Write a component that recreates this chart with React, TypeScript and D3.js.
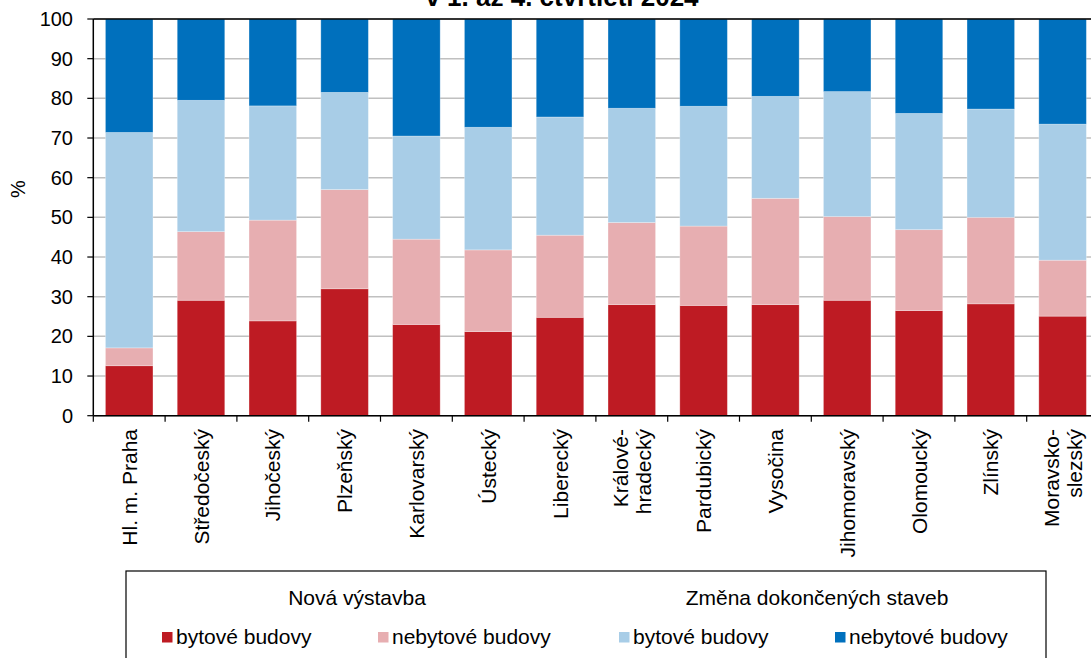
import React from "react";
import * as d3 from "d3";

const categories: string[][] = [
  ["Hl. m. Praha"],
  ["Středočeský"],
  ["Jihočeský"],
  ["Plzeňský"],
  ["Karlovarský"],
  ["Ústecký"],
  ["Liberecký"],
  ["Královéhradecký", "Králové-", "hradecký"],
  ["Pardubický"],
  ["Vysočina"],
  ["Jihomoravský"],
  ["Olomoucký"],
  ["Zlínský"],
  ["Moravskoslezský", "Moravsko-", "slezský"],
];

const newResidential = [12.6, 29.1, 23.9, 32.0, 23.0, 21.2, 24.8, 28.0, 27.8, 28.0, 29.1, 26.5, 28.2, 25.1];
const newNonResidential = [4.5, 17.3, 25.4, 25.0, 21.5, 20.6, 20.7, 20.7, 20.0, 26.8, 21.1, 20.4, 21.8, 14.1];
const changeResidential = [54.3, 33.1, 28.8, 24.5, 26.0, 30.9, 29.8, 28.8, 30.2, 25.7, 31.5, 29.3, 27.3, 34.3];
const changeNonResidential = [28.6, 20.5, 21.9, 18.5, 29.5, 27.3, 24.7, 22.5, 22.0, 19.5, 18.3, 23.8, 22.7, 26.5];

const yTicks = [0, 10, 20, 30, 40, 50, 60, 70, 80, 90, 100];

const seriesNames = ["bytové budovy", "nebytové budovy", "bytové budovy", "nebytové budovy"];
const groupTitles = ["Nová výstavba", "Změna dokončených staveb"];
const colors = ["#BE1B23", "#E7AEB1", "#A8CDE7", "#0070BD"];
const titleText = "v 1. až 4. čtvrtletí 2024";

const W = 1091;
const H = 658;
const left = 93.3;
const step = 71.8;
const top = 19;
const bottom = 415.7;
const FONT = "'Liberation Sans', Arial, Helvetica, sans-serif";

export default function App() {
  const keys = ["a", "b", "c", "d"];
  const rows = categories.map((c, i) => ({
    name: c[0],
    a: newResidential[i],
    b: newNonResidential[i],
    c: changeResidential[i],
    d: changeNonResidential[i],
  }));
  const stacked = d3.stack<any>().keys(keys)(rows);

  const x = d3
    .scaleBand<string>()
    .domain(categories.map((c) => c[0]))
    .range([left, left + step * categories.length])
    .paddingInner(0.338)
    .paddingOuter(0.169);
  const y = d3.scaleLinear().domain([0, 100]).range([bottom, top]);
  const right = left + step * categories.length;

  const legendItemsX = [162, 378, 619, 835];

  return (
    <div style={{ position: "absolute", left: 0, top: 0 }}>
      <svg width={W} height={H} style={{ display: "block", fontFamily: FONT }}>
        <rect x={0} y={0} width={W} height={H} fill="#fff" />
        <text x={562} y={6} textAnchor="middle" fontSize={26} fontWeight="bold" fill="#000">
          {titleText}
        </text>
        {/* gridlines */}
        {yTicks.map((t) => (
          <line key={"g" + t} x1={left} x2={right} y1={y(t)} y2={y(t)} stroke="#C0C0C0" strokeWidth={1.5} />
        ))}
        {/* bars */}
        {stacked.map((s, si) =>
          s.map((d, i) => (
            <rect
              key={si + "-" + i}
              x={x(categories[i][0])}
              y={y(d[1])}
              width={x.bandwidth()}
              height={y(d[0]) - y(d[1])}
              fill={colors[si]}
              stroke="#ffffff"
              strokeOpacity={0.35}
              strokeWidth={0.8}
            />
          ))
        )}
        {/* frame top */}
        <line x1={left} x2={right} y1={top} y2={top} stroke="#000" strokeWidth={1.5} />
        {/* y axis */}
        <line x1={left} x2={left} y1={top} y2={bottom} stroke="#000" strokeWidth={1.5} />
        {yTicks.map((t) => (
          <g key={"t" + t}>
            <line x1={left - 6} x2={left} y1={y(t)} y2={y(t)} stroke="#000" strokeWidth={1.2} />
            <text x={73} y={y(t)} dy="0.35em" textAnchor="end" fontSize={20} fill="#000">
              {t}
            </text>
          </g>
        ))}
        <text transform={`translate(18,189) rotate(-90)`} textAnchor="middle" dy="0.35em" fontSize={20} fill="#000">
          %
        </text>
        {/* x axis */}
        <line x1={left} x2={right} y1={bottom} y2={bottom} stroke="#000" strokeWidth={1.5} />
        {d3.range(categories.length + 1).map((i) => (
          <line key={"xt" + i} x1={left + i * step} x2={left + i * step} y1={bottom} y2={bottom + 6} stroke="#000" strokeWidth={1.2} />
        ))}
        {categories.map((c, i) => {
          const cx = (x(c[0]) as number) + x.bandwidth() / 2;
          const lines = c.length > 1 ? c.slice(1) : [c[0]];
          return (
            <g key={"xl" + i} transform={`translate(${cx},429) rotate(-90)`}>
              {lines.map((l, li) => (
                <text
                  key={li}
                  x={0}
                  y={(li - (lines.length - 1) / 2) * 23}
                  dy="0.36em"
                  textAnchor="end"
                  fontSize={21}
                  fill="#000"
                >
                  {l}
                </text>
              ))}
            </g>
          );
        })}
        {/* legend */}
        <rect x={126} y={571} width={920} height={140} fill="none" stroke="#000" strokeWidth={1.2} />
        <text x={357} y={605} textAnchor="middle" fontSize={21} fill="#000">
          {groupTitles[0]}
        </text>
        <text x={817} y={605} textAnchor="middle" fontSize={21} fill="#000">
          {groupTitles[1]}
        </text>
        {seriesNames.map((n, i) => (
          <g key={"lg" + i}>
            <rect x={legendItemsX[i]} y={632} width={10.5} height={10.5} fill={colors[i]} />
            <text x={legendItemsX[i] + 14} y={644} fontSize={21} fill="#000">
              {n}
            </text>
          </g>
        ))}
      </svg>
    </div>
  );
}
